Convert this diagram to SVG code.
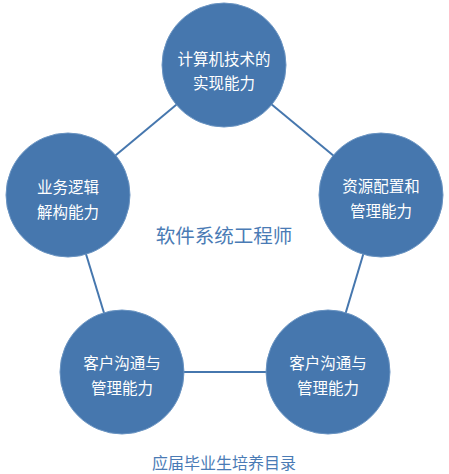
<svg xmlns="http://www.w3.org/2000/svg" width="449" height="474" viewBox="0 0 449 474">
<style>
.node{fill:#4677ae;stroke:#6a94c2;stroke-width:1}
.lbl{fill:#ffffff;font-family:"Noto Sans CJK SC","Microsoft YaHei",sans-serif;font-size:15.5px;text-anchor:middle;dominant-baseline:central}
.conn{stroke:#4677ae;stroke-width:2;fill:none}
.blue{fill:#4a7bb5;font-family:"Noto Sans CJK SC",sans-serif;text-anchor:middle;dominant-baseline:central}
</style>
<rect width="449" height="474" fill="#ffffff"/>
<g id="connectors">
<line class="conn" x1="224" y1="65" x2="68" y2="195"/>
<line class="conn" x1="224" y1="65" x2="381" y2="195"/>
<line class="conn" x1="68" y1="195" x2="122" y2="372"/>
<line class="conn" x1="381" y1="195" x2="328" y2="372"/>
<line class="conn" x1="122" y1="372" x2="328" y2="372"/>
</g>
<g id="node-top">
<circle class="node" cx="224" cy="65" r="62"/>
<text class="lbl" x="224" y="58">计算机技术的</text>
<text class="lbl" x="224" y="82">实现能力</text>
</g>
<g id="node-left">
<circle class="node" cx="68" cy="195" r="62"/>
<text class="lbl" x="68" y="186">业务逻辑</text>
<text class="lbl" x="68" y="211">解构能力</text>
</g>
<g id="node-right">
<circle class="node" cx="381" cy="195" r="62"/>
<text class="lbl" x="381" y="185">资源配置和</text>
<text class="lbl" x="381" y="210">管理能力</text>
</g>
<g id="node-bottom-left">
<circle class="node" cx="122" cy="372" r="62"/>
<text class="lbl" x="122" y="362">客户沟通与</text>
<text class="lbl" x="122" y="387">管理能力</text>
</g>
<g id="node-bottom-right">
<circle class="node" cx="328" cy="372" r="62"/>
<text class="lbl" x="328" y="362">客户沟通与</text>
<text class="lbl" x="328" y="387">管理能力</text>
</g>
<text class="blue" x="224" y="234" font-size="19.5">软件系统工程师</text>
<text class="blue" x="224" y="462" font-size="16">应届毕业生培养目录</text>
</svg>
